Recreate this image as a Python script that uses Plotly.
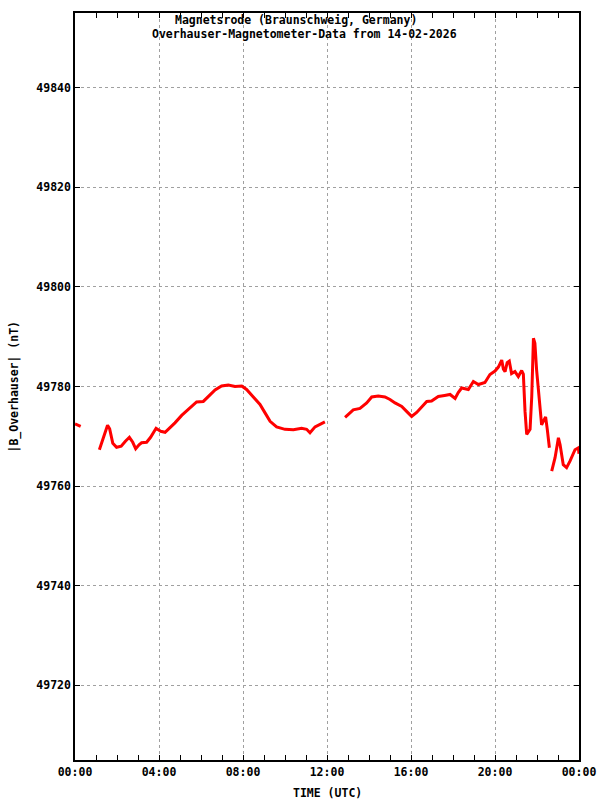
import plotly.graph_objects as go

# Time in hours (UTC) and |B| in nT; None marks data gaps
hours = [0.0, 0.15, 0.27, None,
         1.16, 1.25, 1.40, 1.55, 1.65, 1.80, 1.98, 2.2, 2.4, 2.59, 2.75, 2.89, 3.05, 3.17, 3.41, 3.6,
         3.86, 4.08, 4.29, 4.5, 4.76, 5.08, 5.48, 5.79, 6.11, 6.35, 6.67, 6.98, 7.30, 7.62, 7.94,
         8.17, 8.49, 8.81, 9.05, 9.29, 9.6, 10.0, 10.4, 10.79, 11.03, 11.19, 11.43, 11.67, 11.9, None,
         12.86, 13.1, 13.25, 13.57, 13.89, 14.13, 14.44, 14.76, 15.0, 15.24, 15.56, 15.79, 16.03,
         16.27, 16.51, 16.75, 16.98, 17.3, 17.6, 17.86, 18.1, 18.25, 18.41, 18.73, 18.97, 19.21,
         19.52, 19.76, 20.0, 20.16, 20.32, 20.40, 20.48, 20.58, 20.68, 20.79, 20.95, 21.11, 21.27,
         21.35, 21.43, 21.51, 21.67, 21.75, 21.83, 21.9, 21.98, 22.11, 22.22, 22.3, 22.41, 22.49,
         22.59, None,
         22.7, 22.86, 23.02, 23.1, 23.25, 23.41, 23.57, 23.81, 23.97, 24.0]
field = [49772.5, 49772.3, 49772.0, None,
         49767.3, 49768.5, 49770.5, 49772.2, 49771.5, 49768.6, 49767.8, 49768.0, 49769.0, 49769.8,
         49768.8, 49767.5, 49768.3, 49768.7, 49768.8, 49769.8,
         49771.6, 49771.0, 49770.8, 49771.6, 49772.7, 49774.2, 49775.7, 49776.9, 49777.0, 49778.0,
         49779.3, 49780.1, 49780.3, 49780.0, 49780.1,
         49779.4, 49778.0, 49776.4, 49774.7, 49773.0, 49771.9, 49771.4, 49771.3, 49771.6, 49771.4,
         49770.7, 49771.9, 49772.4, 49772.9, None,
         49773.8, 49774.8, 49775.3, 49775.6, 49776.7, 49777.9, 49778.1, 49777.9, 49777.4, 49776.7,
         49776.0, 49775.0, 49774.0,
         49774.8, 49776.0, 49777.0, 49777.1, 49778.0, 49778.2, 49778.4, 49777.6, 49778.8, 49779.7,
         49779.4, 49781.0, 49780.4,
         49780.8, 49782.4, 49783.1, 49783.9, 49785.3, 49783.5, 49783.0, 49784.8, 49785.1, 49782.6,
         49783.0, 49782.0, 49783.2,
         49782.5, 49775.0, 49770.4, 49771.4, 49778.0, 49789.7, 49788.7, 49783.4, 49776.7, 49772.3,
         49773.0, 49773.9, 49771.4,
         49767.7, None,
         49763.0, 49765.7, 49769.7, 49768.3, 49764.3, 49763.7, 49765.0, 49767.3, 49767.7, 49766.5]

x_tick_vals = [0, 4, 8, 12, 16, 20, 24]
x_tick_text = ["00:00", "04:00", "08:00", "12:00", "16:00", "20:00", "00:00"]
y_tick_vals = [49720, 49740, 49760, 49780, 49800, 49820, 49840]
y_tick_text = ["49720", "49740", "49760", "49780", "49800", "49820", "49840"]

title_lines = ["Magnetsrode (Braunschweig, Germany)",
               "Overhauser-Magnetometer-Data from 14-02-2026"]

FONT = "DejaVu Sans Mono"
W, H = 600, 800
ML, MR, MT, MB = 75, 21, 13, 40
plot_h = H - MT - MB
plot_w = W - ML - MR


def px_x(px):
    return (px - ML) / plot_w


def px_y(py):
    return (H - MB - py) / plot_h


fig = go.Figure()
fig.add_trace(go.Scatter(x=hours, y=field, mode="lines",
                         line=dict(color="#ff0000", width=3),
                         connectgaps=False, showlegend=False, hoverinfo="skip"))

fig.update_layout(
    width=W, height=H,
    margin=dict(l=ML, r=MR, t=MT, b=MB),
    paper_bgcolor="white", plot_bgcolor="white",
    font=dict(family=FONT, size=11.5, color="black"),
)
fig.add_annotation(text="<b>" + title_lines[0] + "</b>", x=px_x(296), xref="paper",
                   y=px_y(20), yref="paper", xanchor="center", yanchor="middle",
                   showarrow=False, font=dict(family=FONT, size=11.5))
fig.add_annotation(text="<b>" + title_lines[1] + "</b>", x=px_x(304), xref="paper",
                   y=px_y(34), yref="paper", xanchor="center", yanchor="middle",
                   showarrow=False, font=dict(family=FONT, size=11.5))
fig.add_annotation(text="<b>TIME (UTC)</b>", x=px_x(327), xref="paper",
                   y=px_y(793), yref="paper",
                   xanchor="center", yanchor="middle", showarrow=False,
                   font=dict(family=FONT, size=11.5))
fig.add_annotation(text="<b>|B_Overhauser| (nT)</b>", x=px_x(14), xref="paper",
                   y=0.5, yref="paper", xanchor="center", yanchor="middle",
                   textangle=-90, showarrow=False, font=dict(family=FONT, size=11.5))

fig.update_xaxes(
    range=[0, 24], tickvals=x_tick_vals, ticktext=x_tick_text,
    tickfont=dict(family=FONT, size=11.5, weight="bold"),
    ticks="inside", ticklen=5, tickcolor="black",
    minor=dict(dtick=1, ticks="inside", ticklen=5, tickcolor="black", showgrid=False),
    showline=True, linecolor="black", linewidth=1.5, mirror="allticks",
    showgrid=True, gridcolor="#a0a0a0", griddash="dot", gridwidth=1,
    zeroline=False, automargin=False,
)
fig.update_yaxes(
    range=[49705, 49855], tickvals=y_tick_vals, ticktext=y_tick_text,
    tickfont=dict(family=FONT, size=11.5, weight="bold"),
    ticks="inside", ticklen=5, tickcolor="black",
    showline=True, linecolor="black", linewidth=1.5, mirror="allticks",
    showgrid=True, gridcolor="#a0a0a0", griddash="dot", gridwidth=1,
    zeroline=False, automargin=False,
)

fig.write_html("out.html", config={"displayModeBar": False},
               post_script="document.body.style.margin='0px';document.body.style.padding='0px';")
